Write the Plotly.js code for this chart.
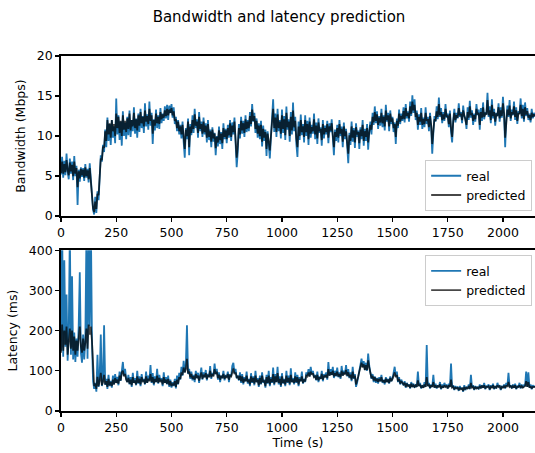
<!DOCTYPE html>
<html>
<head>
<meta charset="utf-8">
<script src="https://cdn.plot.ly/plotly-3.0.1.min.js"></script>
<style>html,body{margin:0;padding:0;background:#fff;}#chart{width:535px;height:453px;}</style>
</head>
<body>
<div id="chart"></div>
<script>
// sampling interval (seconds) of the values
const sampleStep = 5;

const xTicks = [0, 250, 500, 750, 1000, 1250, 1500, 1750, 2000];
const bwTicks = [0, 5, 10, 15, 20];
const latTicks = [0, 100, 200, 300, 400];

// Bandwidth (Mbps), real, every 5 s
const bwReal = [
5.2,7.4,4.8,6.9,5.1,7.8,5.6,4.6,7.2,5.3,
6.8,4.5,7.5,5.0,6.3,1.4,5.8,4.3,6.1,4.9,
6.0,4.4,6.5,4.8,5.9,4.2,6.6,4.7,3.0,0.8,
0.2,2.4,0.4,3.1,2.0,5.2,7.6,6.8,8.9,8.0,
10.8,8.6,12.3,9.4,11.5,8.9,12.0,9.8,11.2,9.1,
14.7,10.2,12.6,9.5,11.8,8.8,13.1,10.0,11.7,9.6,
12.4,10.1,13.2,9.9,12.0,10.6,13.6,10.3,12.2,9.8,
12.8,10.5,13.4,11.0,12.5,10.4,14.1,11.2,12.7,10.8,
14.3,11.3,12.9,9.0,12.1,10.7,13.3,11.0,12.6,10.9,
13.5,11.6,12.8,11.9,13.7,12.2,13.9,12.0,13.8,12.9,
14.0,12.3,13.6,11.5,12.4,10.6,12.0,10.2,11.4,9.7,
11.8,9.3,7.3,11.0,9.6,12.2,7.6,11.5,10.1,12.6,
10.4,13.4,11.0,12.1,9.8,13.0,10.6,11.8,9.9,12.3,
10.2,11.6,9.2,12.0,9.5,10.8,8.6,11.1,9.3,10.4,
7.6,10.0,8.7,11.2,9.0,10.5,8.4,11.6,9.6,10.9,
9.1,11.4,9.8,12.0,9.4,11.7,10.2,12.3,8.8,6.1,
8.0,11.5,9.7,12.4,10.3,11.9,9.9,12.6,10.5,12.0,
10.6,13.0,11.2,14.0,11.8,12.9,10.4,12.2,9.8,11.6,
9.6,11.9,8.7,11.3,9.4,10.8,7.5,10.6,9.0,7.2,
9.8,12.2,14.6,10.5,12.8,9.9,13.4,10.6,12.0,9.7,
13.3,10.4,12.5,9.5,13.7,10.8,12.1,9.3,13.0,10.2,
14.2,10.6,12.4,9.0,7.4,11.8,9.5,12.7,10.1,11.5,
9.2,12.6,10.0,11.9,8.9,12.3,9.8,11.4,10.3,12.8,
9.6,11.7,9.0,12.2,10.4,11.1,8.8,12.0,9.7,11.3,
10.2,11.9,9.1,11.6,10.5,12.1,8.9,7.6,10.8,9.4,
11.4,9.2,12.0,10.0,11.2,8.6,11.7,9.6,10.9,8.3,
6.6,10.4,8.9,11.8,9.3,11.0,8.5,11.6,9.9,10.7,
8.4,11.1,9.6,12.0,8.8,10.9,9.4,11.5,8.3,10.6,
11.8,10.2,12.9,11.4,13.7,11.6,13.1,10.9,12.5,11.3,
13.4,11.1,12.6,10.7,13.9,11.8,12.9,10.6,13.2,11.5,
12.4,10.5,11.7,9.0,12.2,11.0,13.3,11.5,12.8,11.9,
13.6,11.7,14.0,12.2,13.1,11.8,14.3,12.5,15.1,12.9,
14.6,12.0,13.2,10.8,12.7,11.4,13.5,10.9,12.3,11.1,
13.6,11.5,12.4,10.6,12.9,11.2,7.8,10.4,12.5,11.8,
13.7,12.1,14.8,12.4,13.5,11.6,13.0,11.9,14.0,12.3,
12.8,11.1,13.2,10.5,9.2,12.0,13.4,11.7,12.9,12.2,
14.1,12.4,13.0,11.6,13.8,12.5,12.2,10.9,13.6,12.0,
14.4,12.3,13.2,11.4,12.8,11.8,14.0,12.6,13.3,10.8,
13.5,11.9,14.2,12.1,13.0,12.7,15.4,12.4,13.7,11.6,
14.6,12.2,13.4,11.3,12.9,12.5,14.1,11.8,13.6,12.3,
14.9,12.7,8.6,12.1,13.8,12.4,14.5,11.9,13.3,12.6,
14.3,12.0,13.6,11.5,13.1,12.8,14.7,12.2,13.9,11.8,
14.2,12.5,13.5,12.0,12.8,11.7,13.4,12.2,12.9,12.4
];

// Bandwidth (Mbps), predicted, every 5 s
const bwPred = [
5.4,6.8,5.3,6.5,5.5,7.0,5.8,5.1,6.7,5.6,
6.4,5.0,6.8,5.3,6.0,3.6,5.6,4.7,5.9,5.1,
5.8,4.8,6.1,5.0,5.7,4.6,6.0,4.4,2.8,1.0,
0.5,1.8,0.9,2.8,2.6,5.0,7.2,7.0,8.7,8.5,
10.6,9.4,12.0,10.2,11.6,9.8,12.0,10.6,11.5,10.0,
12.8,11.0,12.4,10.4,11.9,10.0,12.6,10.8,11.9,10.5,
12.2,10.9,12.8,10.7,12.0,11.2,12.9,11.0,12.1,10.7,
12.6,11.3,13.0,11.6,12.4,11.2,13.2,11.8,12.5,11.5,
13.4,11.9,12.6,10.3,12.0,11.3,12.8,11.6,12.4,11.5,
13.0,12.1,12.7,12.3,13.2,12.5,13.4,12.6,13.3,12.9,
13.5,12.6,13.1,11.9,12.1,11.0,11.8,10.6,11.2,10.2,
11.4,9.9,8.4,10.8,10.0,11.8,8.6,11.2,10.4,12.0,
10.9,12.7,11.3,11.8,10.4,12.4,10.9,11.5,10.3,11.8,
10.5,11.3,9.8,11.5,9.9,10.6,9.3,10.8,9.7,10.3,
8.5,9.9,9.2,10.7,9.5,10.3,9.1,11.0,9.9,10.7,
9.6,11.0,10.1,11.6,9.9,11.3,10.5,11.8,9.4,7.3,
8.8,11.0,10.2,11.9,10.7,11.6,10.4,12.1,10.9,11.8,
11.0,12.5,11.5,13.3,11.9,12.5,10.9,11.9,10.3,11.3,
10.0,11.4,9.3,10.9,9.8,10.5,8.4,10.3,9.3,8.2,
10.0,11.8,13.4,11.0,12.3,10.5,12.7,11.0,11.8,10.3,
12.6,10.9,12.1,10.1,12.9,11.1,11.8,10.0,12.4,10.7,
13.2,11.1,11.9,9.7,8.6,11.2,10.0,12.0,10.5,11.2,
9.9,12.0,10.5,11.5,9.6,11.8,10.3,11.1,10.6,12.1,
10.2,11.3,9.7,11.7,10.6,10.9,9.5,11.5,10.2,11.0,
10.5,11.5,9.8,11.2,10.7,11.6,9.6,8.6,10.5,9.9,
11.0,9.8,11.5,10.3,10.9,9.3,11.2,10.0,10.6,9.1,
7.8,10.1,9.4,11.2,9.8,10.7,9.2,11.1,10.2,10.5,
9.1,10.8,10.0,11.4,9.4,10.6,9.9,11.0,9.2,10.5,
11.4,10.8,12.4,11.7,13.0,11.9,12.7,11.4,12.3,11.7,
12.9,11.6,12.4,11.2,13.2,12.0,12.6,11.2,12.8,11.8,
12.2,11.0,11.5,9.9,11.9,11.3,12.8,11.8,12.5,12.1,
13.1,12.1,13.5,12.5,12.9,12.2,13.7,12.8,14.3,13.2,
13.9,12.4,12.9,11.4,12.4,11.8,12.9,11.4,12.1,11.5,
12.9,11.9,12.1,11.1,12.5,11.4,9.0,10.7,12.1,11.9,
13.1,12.4,14.0,12.6,13.0,12.0,12.7,12.1,13.4,12.5,
12.5,11.5,12.8,11.0,9.9,11.8,12.9,12.0,12.6,12.3,
13.5,12.6,12.8,12.0,13.2,12.6,12.1,11.4,13.0,12.3,
13.7,12.6,12.9,11.9,12.6,12.1,13.4,12.7,12.9,11.4,
13.0,12.3,13.6,12.4,12.8,12.7,14.5,12.6,13.2,12.0,
13.9,12.5,13.0,11.8,12.7,12.6,13.6,12.2,13.2,12.5,
14.1,12.8,9.8,12.2,13.3,12.6,13.8,12.2,13.0,12.7,
13.7,12.4,13.2,11.9,12.8,12.8,13.9,12.5,13.4,12.1,
13.6,12.7,13.1,12.3,12.6,12.0,12.9,12.4,12.7,12.5
];

// Latency (ms), real, every 5 s
const latReal = [
150,480,135,375,160,290,125,190,450,140,
335,128,195,122,180,135,210,345,145,120,
190,128,175,430,130,470,210,480,180,75,
55,70,48,140,60,85,190,62,78,213,
65,80,55,90,62,75,58,88,66,92,
70,85,64,98,75,110,122,88,105,80,
72,90,66,84,60,95,70,82,64,100,
68,86,62,92,74,80,66,98,70,88,
76,114,70,94,64,86,72,105,68,90,
74,82,62,96,70,84,66,88,60,78,
58,72,62,80,56,88,66,95,78,110,
88,125,96,115,213,92,105,80,98,76,
90,72,100,82,95,70,88,108,78,96,
84,102,76,92,85,112,80,95,88,118,
92,105,78,96,72,88,82,100,76,90,
84,98,72,92,86,112,120,94,105,82,
88,76,96,70,92,66,84,74,98,68,
80,62,94,70,86,64,100,72,82,60,
88,66,96,70,78,58,90,68,100,62,
84,70,108,64,92,72,110,66,86,60,
94,68,80,62,100,70,88,64,106,72,
82,66,96,70,90,62,84,74,98,68,
80,72,96,88,104,86,110,92,100,84,
90,76,98,72,86,80,100,74,92,84,
96,78,122,88,104,90,110,82,100,86,
108,84,96,80,112,88,100,92,114,86,
104,82,96,74,110,80,92,60,70,84,
100,118,130,110,124,102,120,100,143,112,
98,80,92,72,86,70,82,68,84,74,
90,70,78,66,84,72,80,68,86,74,
80,96,110,86,98,72,84,66,78,70,
64,74,58,70,62,66,56,72,60,68,
58,66,60,98,62,70,56,64,58,72,
60,164,62,70,56,66,60,90,58,68,
56,64,60,72,54,66,58,70,62,64,
56,68,60,118,58,64,52,62,56,60,
50,62,54,58,48,64,52,60,56,66,
54,90,58,64,52,62,56,60,54,66,
56,64,58,70,54,62,60,66,52,64,
58,68,54,62,56,70,60,64,52,62,
58,66,56,70,62,95,60,64,56,66,
58,68,54,62,60,70,56,66,58,64,
62,98,60,96,58,66,54,64,60,62
];

// Latency (ms), predicted, every 5 s
const latPred = [
145,215,150,200,165,210,140,180,205,155,
200,150,185,140,175,150,195,210,160,145,
180,150,170,205,155,215,190,210,175,110,
62,68,55,85,62,75,95,64,72,90,
66,74,60,80,64,72,62,78,66,82,
70,78,68,88,76,96,100,86,92,78,
72,82,68,78,64,84,70,76,66,86,
70,80,66,84,74,76,68,86,70,80,
74,92,72,84,68,80,72,88,70,82,
72,78,66,84,70,78,68,80,64,74,
62,68,64,74,60,78,68,84,80,96,
90,108,96,104,130,94,98,84,92,80,
86,78,92,82,88,76,86,96,80,90,
84,94,80,88,86,100,84,90,88,104,
92,98,82,90,78,86,84,92,80,86,
84,92,78,88,86,100,106,92,96,84,
86,78,88,74,86,70,80,74,88,72,
78,66,86,72,82,68,88,72,78,64,
82,68,88,72,76,62,84,70,88,66,
80,72,92,68,86,72,94,70,80,64,
86,70,78,66,88,72,82,68,90,72,
78,70,86,72,84,66,80,74,86,70,
78,74,88,86,96,86,98,90,94,84,
86,78,90,76,84,80,92,78,88,84,
90,82,104,88,96,90,100,86,94,88,
98,86,92,84,100,88,94,92,102,88,
96,84,90,78,98,82,88,66,74,86,
98,110,120,108,116,102,114,102,126,108,
94,82,88,76,84,74,80,72,80,74,
84,72,76,70,80,72,78,70,82,74,
80,90,96,84,90,74,80,68,74,70,
66,70,60,68,62,64,58,68,60,64,
60,64,60,76,62,66,58,62,58,66,
60,84,62,66,58,64,60,72,58,64,
58,62,60,66,56,62,58,64,60,62,
56,64,60,78,58,60,54,58,56,58,
52,58,54,56,50,60,54,58,56,60,
56,70,58,60,54,60,56,58,56,62,
58,62,58,64,56,60,60,62,54,60,
58,64,56,60,58,64,60,62,54,60,
58,62,58,64,60,72,60,62,58,62,
58,64,56,60,60,64,58,62,58,60,
62,74,60,72,58,62,56,60,60,60
];

const tBw = bwReal.map((_, i) => i * sampleStep);
const tBwPred = bwPred.map((_, i) => i * sampleStep);
const tLat = latReal.map((_, i) => i * sampleStep);
const tLatPred = latPred.map((_, i) => i * sampleStep);

const BLUE = '#1f77b4';
const PRED = 'rgba(0,0,0,0.72)';
const FONT = 'DejaVu Sans, sans-serif';

const traces = [
  {x: tBw, y: bwReal, xaxis: 'x', yaxis: 'y', mode: 'lines', name: 'real',
   line: {color: BLUE, width: 1.8}, legend: 'legend'},
  {x: tBwPred, y: bwPred, xaxis: 'x', yaxis: 'y', mode: 'lines', name: 'predicted',
   line: {color: PRED, width: 1.8}, legend: 'legend'},
  {x: tLat, y: latReal, xaxis: 'x2', yaxis: 'y2', mode: 'lines', name: 'real',
   line: {color: BLUE, width: 1.8}, legend: 'legend2'},
  {x: tLatPred, y: latPred, xaxis: 'x2', yaxis: 'y2', mode: 'lines', name: 'predicted',
   line: {color: PRED, width: 1.8}, legend: 'legend2'}
];

const axBase = {
  showline: true, linecolor: '#000', linewidth: 1.8,
  ticks: 'outside', ticklen: 4, tickwidth: 1.3, tickcolor: '#000',
  showgrid: false, zeroline: false,
  tickfont: {family: FONT, size: 12.5, color: '#000'}
};

const legBase = {
  bgcolor: 'rgba(255,255,255,0.8)', bordercolor: '#cccccc', borderwidth: 1,
  font: {family: FONT, size: 12.5, color: '#000'},
  xanchor: 'right', xref: 'paper', yref: 'paper'
};

const layout = {
  width: 535, height: 453,
  margin: {l: 61, r: 0, t: 56, b: 42},
  paper_bgcolor: '#fff', plot_bgcolor: '#fff',
  font: {family: FONT, color: '#000'},
  title: {text: 'Bandwidth and latency prediction', font: {family: FONT, size: 15, color: '#000'},
          xref: 'container', yref: 'container', x: 0.5215, xanchor: 'center', y: 0.962, yanchor: 'middle'},
  xaxis: Object.assign({}, axBase, {anchor: 'y', domain: [0, 1], range: [0, 2145], tickvals: xTicks, mirror: true}),
  yaxis: Object.assign({}, axBase, {anchor: 'x', domain: [0.549, 1], range: [0, 20], tickvals: bwTicks,
          title: {text: 'Bandwidth (Mbps)', font: {family: FONT, size: 12.5, color: '#000'}, standoff: 8}}),
  xaxis2: Object.assign({}, axBase, {anchor: 'y2', domain: [0, 1], range: [0, 2145], tickvals: xTicks, mirror: true,
          title: {text: 'Time (s)', font: {family: FONT, size: 12.5, color: '#000'}, standoff: 4}}),
  yaxis2: Object.assign({}, axBase, {anchor: 'x2', domain: [0, 0.453], range: [0, 400], tickvals: latTicks,
          title: {text: 'Latency (ms)', font: {family: FONT, size: 12.5, color: '#000'}, standoff: 8}}),
  legend: Object.assign({}, legBase, {x: 0.994, y: 0.563, yanchor: 'bottom'}),
  legend2: Object.assign({}, legBase, {x: 0.994, y: 0.439, yanchor: 'top'}),
  showlegend: true
};

Plotly.newPlot('chart', traces, layout, {staticPlot: true, displayModeBar: false});
</script>
</body>
</html>
